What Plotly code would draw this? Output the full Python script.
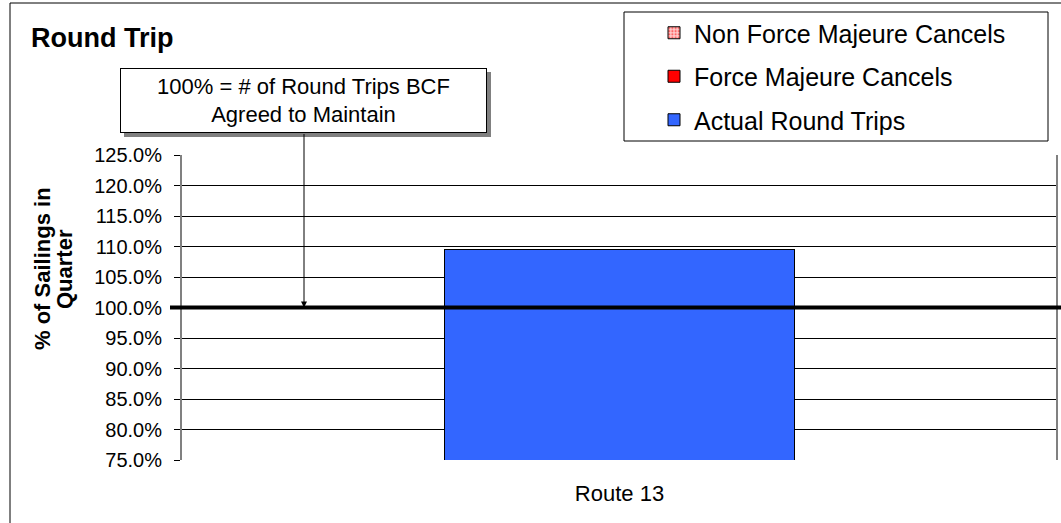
import plotly.graph_objects as go

categories = ["Route 13"]
actual_round_trips = [1.095]
force_majeure = [0.0]
non_force_majeure = [0.0]
y_ticks = [0.75, 0.80, 0.85, 0.90, 0.95, 1.00, 1.05, 1.10, 1.15, 1.20, 1.25]
target_level = 1.0

L, R, T, B = 182, 4, 155, 63
W, H = 1061, 523
pw = W - L - R
ph = H - T - B

def px(xp):
    return (xp - L) / pw

def py(yp):
    return (H - B - yp) / ph

fig = go.Figure()
fig.add_trace(go.Bar(x=categories, y=actual_round_trips, name="Actual Round Trips",
                     marker=dict(color="#3366FF", line=dict(color="black", width=1)),
                     legendgroup="c", legendrank=3, width=0.4))
fig.add_trace(go.Bar(x=categories, y=force_majeure, name="Force Majeure Cancels",
                     marker=dict(color="#FF0000", line=dict(color="black", width=1)),
                     legendgroup="b", legendrank=2, width=0.4))
fig.add_trace(go.Bar(x=categories, y=non_force_majeure, name="Non Force Majeure Cancels",
                     marker=dict(color="#FF9999", line=dict(color="black", width=1),
                                 pattern=dict(shape=".", fgcolor="#FF0000", bgcolor="#FFCCCC", size=4, solidity=0.4)),
                     legendgroup="a", legendrank=1, width=0.4))

font_family = "Arial, Liberation Sans, sans-serif"

fig.update_layout(
    barmode="stack",
    width=W, height=H,
    margin=dict(l=L, r=R, t=T, b=B, autoexpand=False),
    paper_bgcolor="white", plot_bgcolor="white",
    font=dict(family=font_family, color="black", size=20),
    showlegend=True,
    legend=dict(x=px(654), y=py(10), xanchor="left", yanchor="top",
                traceorder="grouped", borderwidth=0,
                bgcolor="rgba(0,0,0,0)", font=dict(size=25), tracegroupgap=8,
                itemwidth=30),
    xaxis=dict(showgrid=False, showline=False, ticks="outside", ticklen=14,
               tickcolor="rgba(0,0,0,0)", tickfont=dict(size=22)),
    yaxis=dict(range=[0.75, 1.25], tickvals=y_ticks, tickformat=".1%",
               showgrid=True, gridcolor="black", gridwidth=1,
               showline=True, linecolor="#808080", linewidth=2,
               ticks="outside", ticklen=6, tickcolor="black",
               ticklabelstandoff=8,
               tickfont=dict(size=20), zeroline=False),
)

shapes = []
# outer chart border
shapes.append(dict(type="rect", xref="paper", yref="paper", x0=px(10), x1=px(1075), y0=py(540), y1=py(3),
                   line=dict(color="black", width=1), layer="below"))
# legend box
shapes.append(dict(type="rect", xref="paper", yref="paper", x0=px(624), x1=px(1048), y0=py(141), y1=py(12),
                   line=dict(color="black", width=1), fillcolor="white", layer="below"))
# plot right border
shapes.append(dict(type="line", xref="paper", yref="paper", x0=1, x1=1, y0=0, y1=1,
                   line=dict(color="#808080", width=2)))
# 100% target line
shapes.append(dict(type="line", xref="paper", yref="y", x0=px(170), x1=px(1061), y0=target_level, y1=target_level,
                   line=dict(color="black", width=4), layer="above"))
# annotation shadow
shapes.append(dict(type="rect", xref="paper", yref="paper", x0=px(124), x1=px(491), y0=py(137), y1=py(72),
                   fillcolor="#808080", line=dict(width=0), layer="above"))
fig.update_layout(shapes=shapes)

annotations = []
annotations.append(dict(text="<b>Round Trip</b>", xref="paper", yref="paper", x=px(29), y=py(38),
                        xanchor="left", yanchor="middle", showarrow=False, font=dict(size=27)))
annotations.append(dict(text="<b>% of Sailings in</b>", xref="paper", yref="paper",
                        x=px(42), y=py(269), textangle=-90, xanchor="center", yanchor="middle",
                        showarrow=False, font=dict(size=22)))
annotations.append(dict(text="<b>Quarter</b>", xref="paper", yref="paper",
                        x=px(64), y=py(269), textangle=-90, xanchor="center", yanchor="middle",
                        showarrow=False, font=dict(size=22)))
annotations.append(dict(xref="paper", yref="y", x=px(304), y=target_level, text="", showarrow=True,
                        ax=0, ay=-(308 - 133), arrowhead=2, arrowsize=1.2, arrowwidth=1, arrowcolor="black"))
annotations.append(dict(text="100% = # of Round Trips BCF<br>Agreed to Maintain", xref="paper", yref="paper",
                        x=px(303.5), y=py(100.5), xanchor="center", yanchor="middle", showarrow=False,
                        width=363, height=61, bgcolor="white", bordercolor="black", borderwidth=1,
                        font=dict(size=22)))
fig.update_layout(annotations=annotations)

fig.write_html("out.html", config={"displayModeBar": False},
               post_script="document.body.style.margin='0';document.body.style.overflow='hidden';")
